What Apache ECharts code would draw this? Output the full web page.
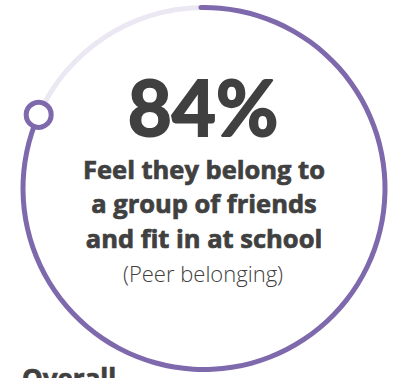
<!DOCTYPE html>
<html>
<head>
<meta charset="utf-8">
<script src="https://cdn.jsdelivr.net/npm/echarts@6/dist/echarts.min.js"></script>
<style>
  html, body { margin: 0; padding: 0; background: #fff; }
  #main { width: 394px; height: 378px; }
</style>
</head>
<body>
<div id="main"></div>
<script>
  // data
  var categories = ['Peer belonging'];
  var shareValues = [84];
  // the ring in the picture closes at about 82% of a turn, so the hidden scale runs a bit past 100
  var scaleMax = [102.5];
  var bigLabel = ['84%'];
  var captionLines = ['Feel they belong to', 'a group of friends', 'and fit in at school'];
  var subCaption = ['(Peer belonging)'];
  var sectionTitle = ['Overall'];

  var purple = '#7f69ad';
  var lavender = '#ebe8f4';
  var ink = '#404040';

  var myChart = echarts.init(document.getElementById('main'), null, { renderer: 'svg' });

  var rest = shareValues.map(function (v, i) { return scaleMax[i] - v; });

  function txt(s, x, y, font, stroke, align) {
    return {
      type: 'text',
      style: {
        text: s, x: x, y: y,
        textAlign: align || 'center', textVerticalAlign: 'middle',
        font: font, fill: ink,
        stroke: stroke ? ink : null, lineWidth: stroke || 0
      }
    };
  }

  var option = {
    animation: false,
    polar: {
      center: [204, 188.5],
      radius: [176, 186]
    },
    angleAxis: {
      type: 'value',
      min: 0,
      max: scaleMax[0],
      startAngle: 91,
      clockwise: true,
      show: false
    },
    radiusAxis: {
      type: 'category',
      data: categories,
      show: false
    },
    series: [
      {
        type: 'bar',
        coordinateSystem: 'polar',
        stack: 'ring',
        data: shareValues,
        barWidth: 5,
        roundCap: true,
        itemStyle: { color: purple },
        silent: true,
        z: 2
      },
      {
        type: 'bar',
        coordinateSystem: 'polar',
        stack: 'ring',
        data: rest,
        barWidth: 5,
        itemStyle: { color: lavender },
        silent: true,
        z: 1
      },
      {
        type: 'scatter',
        coordinateSystem: 'polar',
        data: shareValues.map(function (v, i) { return [categories[i], v]; }),
        symbol: 'circle',
        symbolSize: 25,
        itemStyle: { color: '#fff', borderColor: purple, borderWidth: 5, opacity: 1 },
        silent: true,
        z: 3
      }
    ],
    graphic: [
      txt(bigLabel[0], 203, 106, 'bold 76px Lato', 2),
      txt(captionLines[0], 204, 169, 'bold 25.5px "Open Sans"', 0.7),
      txt(captionLines[1], 204, 203, 'bold 25.5px "Open Sans"', 0.7),
      txt(captionLines[2], 204, 238, 'bold 25.5px "Open Sans"', 0.7),
      txt(subCaption[0], 203, 273, '300 22px "Open Sans"', 0),
      txt(sectionTitle[0], 22, 378, 'bold 26px "Open Sans"', 0.7, 'left')
    ]
  };

  myChart.setOption(option);
  window.addEventListener('resize', function () { myChart.resize(); });
</script>
</body>
</html>
